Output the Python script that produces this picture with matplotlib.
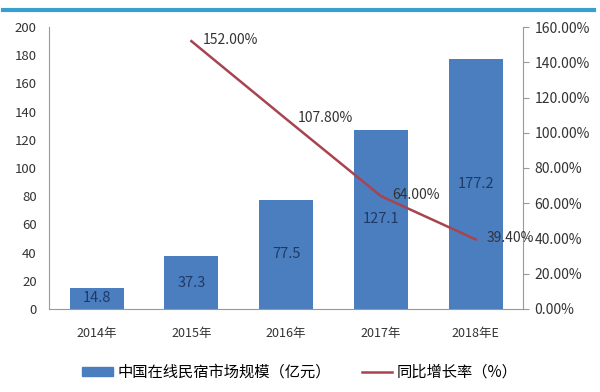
import numpy as np
import matplotlib
matplotlib.use('Agg')
import matplotlib.pyplot as plt
import matplotlib.ticker as mticker
from matplotlib.lines import Line2D

plt.rcParams['font.family'] = ['Noto Sans CJK SC', 'DejaVu Sans']

years = ['2014年', '2015年', '2016年', '2017年', '2018年E']
market = [14.8, 37.3, 77.5, 127.1, 177.2]
growth_years = ['2015年', '2016年', '2017年', '2018年E']
growth = [152.00, 107.80, 64.00, 39.40]

bar_col = '#4a7ebf'
line_col = '#a8434f'

fig = plt.figure(figsize=(6, 3.92), dpi=100)
ax = fig.add_axes([0.082, 0.212, 0.79, 0.719])
ax2 = ax.twinx()

x = np.arange(len(years))
bars = ax.bar(x, market, width=0.57, color=bar_col, zorder=2)
for xi, v in zip(x, market):
    ax.text(xi, v / 2, '%.1f' % v, ha='center', va='center', fontsize=10.5,
            color='#1f3a68', zorder=3)

gx = [years.index(y) for y in growth_years]
ax2.plot(gx, growth, color=line_col, lw=1.8, zorder=4)
for xi, v in zip(gx, growth):
    ax2.annotate('%.2f%%' % v, (xi, v), xytext=(8, 1), textcoords='offset points',
                 ha='left', va='center', fontsize=10, color='#333333')

ax.set_xlim(-0.5, len(years) - 0.5)
ax.set_ylim(0, 200)
ax.set_yticks(np.arange(0, 201, 20))
ax2.set_ylim(0, 160)
ax2.set_yticks(np.arange(0, 161, 20))
ax2.yaxis.set_major_formatter(mticker.FuncFormatter(lambda v, p: '%.2f%%' % v))

ax.set_xticks(x)
ax.set_xticklabels(years, fontsize=9, color='#333333')
ax.tick_params(axis='x', length=0, pad=13)
ax.tick_params(axis='y', length=0, labelsize=9.5, labelcolor='#333333', pad=9)
ax2.tick_params(axis='y', length=4, direction='out', color='#999999',
                labelsize=10, labelcolor='#333333', pad=4)

for a in (ax, ax2):
    a.spines['top'].set_visible(False)
    a.spines['left'].set_color('#999999')
    a.spines['right'].set_color('#999999')
    a.spines['bottom'].set_color('#999999')
ax2.spines['left'].set_visible(False)
ax.spines['right'].set_visible(False)
ax2.spines['bottom'].set_visible(False)

handles = [plt.Rectangle((0, 0), 1, 1, color=bar_col),
           Line2D([0], [0], color=line_col, lw=1.8)]
fig.legend(handles, ['中国在线民宿市场规模（亿元）', '同比增长率（%）'],
           loc='center', bbox_to_anchor=(0.5, 0.05), ncol=2, frameon=False,
           fontsize=11, handlelength=2.0, handleheight=0.5, handletextpad=0.3,
           columnspacing=2.0)

# blue rule at the top of the frame
fig.add_artist(Line2D([0.005, 0.99], [0.975, 0.975], color='#3a9fd0', lw=3,
                      transform=fig.transFigure))

fig.savefig('out.png', dpi=100)
